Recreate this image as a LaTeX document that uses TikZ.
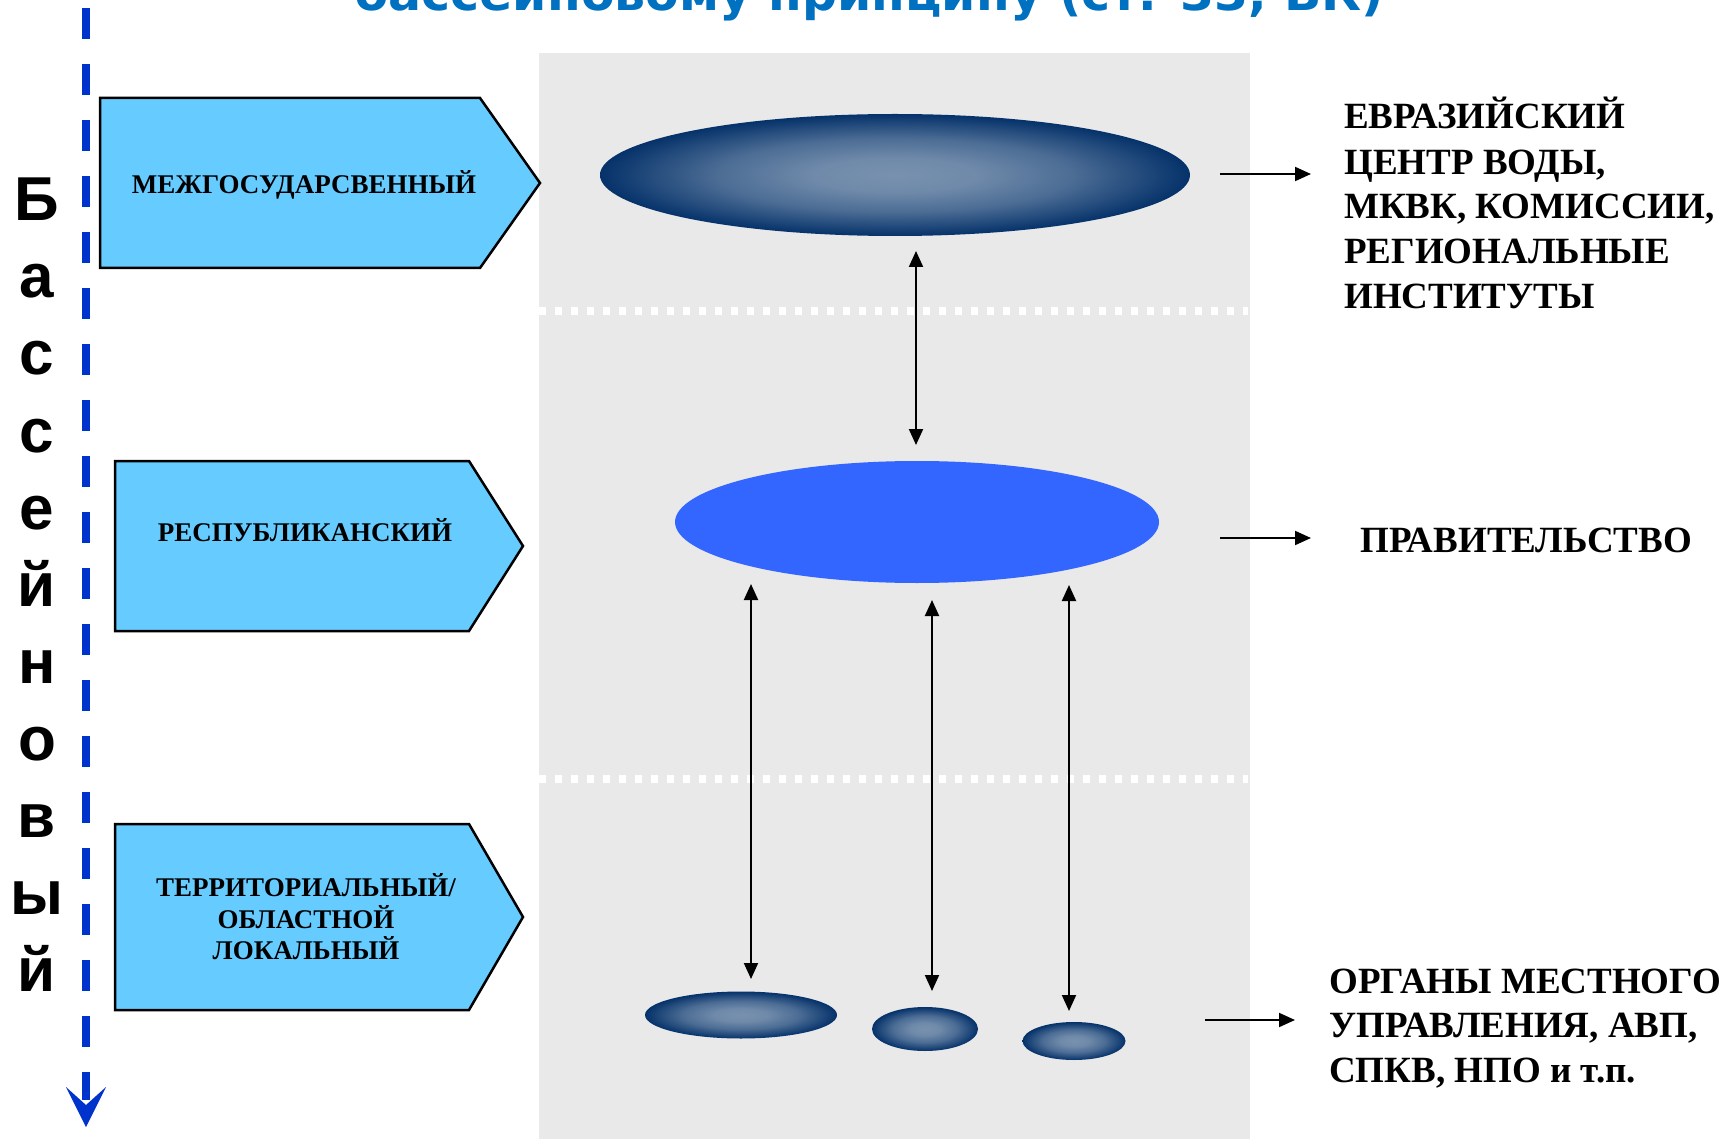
\documentclass[tikz,border=0pt]{standalone}
\usepackage{fontspec}
\setmainfont{Liberation Serif}
\newfontfamily\lsans{Liberation Sans}
\newfontfamily\dvsans{DejaVu Sans}
\usetikzlibrary{shapes.geometric,arrows.meta}
\definecolor{bgray}{HTML}{E9E9E9}
\definecolor{boxblue}{HTML}{66CCFF}
\definecolor{midblue}{HTML}{3366FF}
\definecolor{dashblue}{HTML}{0033CC}
\definecolor{titleblue}{HTML}{0070C0}
\definecolor{ellin}{HTML}{7891AF}
\definecolor{ellout}{HTML}{05326A}
\pgfdeclareradialshading{ellsh}{\pgfpoint{0bp}{0bp}}{%
  color(0bp)=(ellin); color(7bp)=(ellin!92!ellout); color(15bp)=(ellin!62!ellout);
  color(21bp)=(ellin!25!ellout); color(25bp)=(ellout); color(50bp)=(ellout)}
\begin{document}
\begin{tikzpicture}[x=1pt,y=-1pt,
  lbl/.style={font=\bfseries\fontsize{27}{31}\selectfont, inner sep=0, anchor=base},
  rtxt/.style={font=\bfseries\fontsize{37}{45}\selectfont, inner sep=0, anchor=base west},
  vlet/.style={font=\lsans\bfseries\fontsize{62}{62}\selectfont, inner sep=0, anchor=base},
  levbox/.style={draw=black, line width=2.5pt, fill=boxblue, line join=miter},
  dbl/.style={{Triangle[length=16pt,width=14pt]}-{Triangle[length=16pt,width=14pt]}, line width=2pt},
  rarr/.style={-{Triangle[length=16pt,width=14pt]}, line width=2pt},
  shadedell/.style={ellipse, inner sep=0, draw=none, shading=ellsh},
  wdots/.style={white, line width=8pt, dash pattern=on 7pt off 9pt},
]
\useasboundingbox (0,0) rectangle (1735,1139);
\fill[white] (0,0) rectangle (1735,1139);

% title (cut at top)
\node[font=\dvsans\bfseries\fontsize{49}{49}\selectfont, text=titleblue, anchor=base west, inner sep=0] (title) at (354,11) {бассейновому принципу (ст. 33, ВК)};

% gray panel
\fill[bgray] (539,53) rectangle (1250,1139);
\draw[wdots] (539,311) -- (1248,311);
\draw[wdots] (539,779) -- (1248,779);

% left axis
\coordinate (axtop) at (86,8);
\coordinate (axbot) at (86,1100);
\draw[dashblue, line width=8pt, dash pattern=on 31pt off 25pt] (axtop) -- (axbot);
\fill[dashblue] (66,1087) -- (86,1127) -- (106,1087) -- (86,1105) -- cycle;

% vertical word
\foreach \ch [count=\k from 0] in {Б,а,с,с,е,й,н,о,в,ы,й}{
  \node[vlet] (v\k) at (37,221+77*\k) {\ch};
}

% level boxes
\draw[levbox] (100,98) -- (480,98) -- (540,183) -- (480,268) -- (100,268) -- cycle;
\draw[levbox] (115,461) -- (469,461) -- (523,546) -- (469,631) -- (115,631) -- cycle;
\draw[levbox] (115,824) -- (469,824) -- (523,917) -- (469,1010) -- (115,1010) -- cycle;
\node[lbl] (l1) at (304,194) {МЕЖГОСУДАРСВЕННЫЙ};
\node[lbl] (l2) at (305,541) {РЕСПУБЛИКАНСКИЙ};
\node[lbl] (l3a) at (306,896) {ТЕРРИТОРИАЛЬНЫЙ/};
\node[lbl] (l3b) at (306,928) {ОБЛАСТНОЙ};
\node[lbl] (l3c) at (306,959) {ЛОКАЛЬНЫЙ};

% ellipses
\node[shadedell, minimum width=590pt, minimum height=122pt] (e1) at (895,175) {};
\node[ellipse, inner sep=0, fill=midblue, minimum width=484pt, minimum height=122pt] (e2) at (917,522) {};
\node[shadedell, minimum width=192pt, minimum height=47pt] (e3) at (741,1015) {};
\node[shadedell, minimum width=106pt, minimum height=44pt] (e4) at (925,1029) {};
\node[shadedell, minimum width=103pt, minimum height=38pt] (e5) at (1074,1041) {};

% vertical double arrows
\coordinate (a1) at (916,251);  \coordinate (a2) at (916,445);
\coordinate (b1) at (751,584);  \coordinate (b2) at (751,979);
\coordinate (c1) at (932,600);  \coordinate (c2) at (932,991);
\coordinate (d1) at (1069,585); \coordinate (d2) at (1069,1011);
\draw[dbl] (a1) -- (a2);
\draw[dbl] (b1) -- (b2);
\draw[dbl] (c1) -- (c2);
\draw[dbl] (d1) -- (d2);

% right arrows
\coordinate (h1s) at (1220,174); \coordinate (h1e) at (1311,174);
\coordinate (h2s) at (1220,538); \coordinate (h2e) at (1311,538);
\coordinate (h3s) at (1205,1020); \coordinate (h3e) at (1295,1020);
\draw[rarr] (h1s) -- (h1e);
\draw[rarr] (h2s) -- (h2e);
\draw[rarr] (h3s) -- (h3e);

% right texts
\node[rtxt] (r1a) at (1344,129) {ЕВРАЗИЙСКИЙ};
\node[rtxt] (r1b) at (1344,175) {ЦЕНТР ВОДЫ,};
\node[rtxt] (r1c) at (1344,219) {МКВК, КОМИССИИ,};
\node[rtxt] (r1d) at (1344,264) {РЕГИОНАЛЬНЫЕ};
\node[rtxt] (r1e) at (1344,309) {ИНСТИТУТЫ};
\node[rtxt] (r2) at (1360,552) {ПРАВИТЕЛЬСТВО};
\node[rtxt] (r3a) at (1329,993) {ОРГАНЫ МЕСТНОГО};
\node[rtxt] (r3b) at (1329,1037) {УПРАВЛЕНИЯ, АВП,};
\node[rtxt] (r3c) at (1329,1082) {СПКВ, НПО и т.п.};
\end{tikzpicture}
\end{document}
